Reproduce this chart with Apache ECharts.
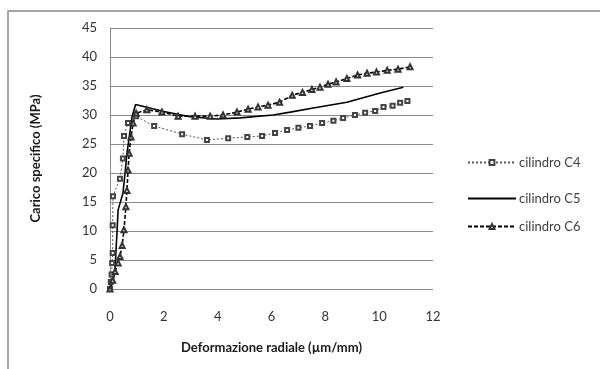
<!DOCTYPE html>
<html><head><meta charset="utf-8">
<script src="https://cdn.jsdelivr.net/npm/echarts@6/dist/echarts.min.js"></script>
<style>html,body{margin:0;padding:0;background:#fff}#c{width:600px;height:369px}</style>
</head><body><div id="c"></div>
<script>
const seriesNames = ['cilindro C4', 'cilindro C5', 'cilindro C6'];
const xTicks = [0, 2, 4, 6, 8, 10, 12];
const yTicks = [0, 5, 10, 15, 20, 25, 30, 35, 40, 45];

const c4x = [0, 0.03, 0.06, 0.08, 0.1, 0.1, 0.11, 0.37, 0.48, 0.52, 0.67, 0.97, 1.64, 2.68, 3.6, 4.39, 5.1, 5.65, 6.13, 6.58, 7.0, 7.43, 7.88, 8.3, 8.66, 9.1, 9.48, 9.85, 10.16, 10.5, 10.78, 11.05];
const c4y = [0, 1.2, 2.5, 4.5, 6.2, 11, 16, 19, 22.5, 26.4, 28.6, 29.8, 28.1, 26.7, 25.7, 26.0, 26.2, 26.4, 26.9, 27.4, 27.8, 28.1, 28.6, 29.0, 29.5, 30.0, 30.4, 30.7, 31.4, 31.6, 32.1, 32.4];

const c5x = [0, 0.11, 0.19, 0.26, 0.3, 0.48, 0.56, 0.63, 0.82, 0.95, 1.4, 2.0, 2.97, 3.98, 4.83, 6.06, 6.7, 7.55, 8.8, 10.04, 10.9];
const c5y = [0, 1.2, 3.8, 9.8, 13.6, 16.5, 20, 23.4, 29.7, 31.8, 31.3, 30.6, 29.7, 29.3, 29.5, 30.0, 30.5, 31.2, 32.2, 33.8, 34.8];

const c6x = [0, 0.1, 0.19, 0.3, 0.37, 0.45, 0.52, 0.59, 0.63, 0.67, 0.71, 0.78, 0.86, 0.97, 1.37, 1.93, 2.53, 3.16, 3.72, 4.2, 4.72, 5.13, 5.5, 5.87, 6.3, 6.77, 7.15, 7.5, 7.8, 8.1, 8.4, 8.8, 9.2, 9.55, 9.9, 10.3, 10.7, 11.15];
const c6y = [0, 1.5, 3, 4.5, 5.6, 7.5, 10.2, 14.2, 17, 20.5, 23.4, 26.2, 28.6, 30.3, 30.9, 30.5, 29.8, 29.8, 29.8, 30.0, 30.5, 31.0, 31.4, 31.7, 32.2, 33.4, 33.9, 34.4, 34.8, 35.3, 35.7, 36.3, 36.9, 37.2, 37.4, 37.7, 37.9, 38.3];

const zip = (xs, ys) => xs.map((x, i) => [x, ys[i]]);
const font = 'Lato, Open Sans, sans-serif';

const chart = echarts.init(document.getElementById('c'), null, {renderer: 'canvas'});
const legendBase = {
  orient: 'vertical', left: 462, itemWidth: 48, itemHeight: 6, itemGap: 0,
  textStyle: {fontFamily: font, fontSize: 13, color: '#404040', padding: [0, 0, 0, -2]},
  selectedMode: false
};
chart.setOption({
  animation: false,
  backgroundColor: '#fff',
  graphic: [{
    type: 'polyline', silent: true,
    shape: {points: [[8, 369], [8, 11], [600, 11]]},
    style: {stroke: '#8a8a8a', lineWidth: 1.5, fill: null}
  }],
  grid: {left: 110, right: 167, top: 28, bottom: 80, containLabel: false},
  legend: [
    Object.assign({}, legendBase, {top: 151, data: [seriesNames[0]]}),
    Object.assign({}, legendBase, {top: 187, data: [{name: seriesNames[1], itemStyle: {opacity: 0}}]}),
    Object.assign({}, legendBase, {top: 215, data: [seriesNames[2]]})
  ],
  xAxis: {
    type: 'value', min: xTicks[0], max: xTicks[xTicks.length - 1], interval: 2,
    name: 'Deformazione radiale (\u00b5m/mm)', nameLocation: 'middle', nameGap: 52,
    nameTextStyle: {fontFamily: font, fontSize: 13, fontWeight: 'bold', color: '#1a1a1a'},
    axisLine: {show: false}, axisTick: {show: false},
    axisLabel: {fontFamily: font, fontSize: 13, color: '#333', margin: 21},
    splitLine: {show: false}
  },
  yAxis: {
    type: 'value', min: yTicks[0], max: yTicks[yTicks.length - 1], interval: 5,
    name: 'Carico specifico (MPa)', nameLocation: 'middle', nameGap: 68, nameRotate: 90,
    nameTextStyle: {fontFamily: font, fontSize: 13, fontWeight: 'bold', color: '#1a1a1a'},
    axisLine: {show: true, lineStyle: {color: '#8a8a8a', width: 1}}, axisTick: {show: false},
    axisLabel: {fontFamily: font, fontSize: 13, color: '#333', margin: 13},
    splitLine: {show: true, lineStyle: {color: '#8a8a8a', width: 1}}
  },
  series: [
    {
      name: seriesNames[0], type: 'line', data: zip(c4x, c4y),
      symbol: 'emptyRect', symbolSize: 4,
      lineStyle: {color: '#555', width: 1, type: [2, 2]},
      itemStyle: {color: '#444', borderWidth: 0.7}
    },
    {
      name: seriesNames[1], type: 'line', data: zip(c5x, c5y),
      symbol: 'none', showSymbol: false,
      lineStyle: {color: '#000', width: 1.6},
      itemStyle: {color: '#000'}
    },
    {
      name: seriesNames[2], type: 'line', data: zip(c6x, c6y),
      symbol: 'emptyTriangle', symbolSize: 5,
      lineStyle: {color: '#000', width: 1.6, type: [4, 2]},
      itemStyle: {color: '#333', borderWidth: 0.7}
    }
  ]
});
</script></body></html>
